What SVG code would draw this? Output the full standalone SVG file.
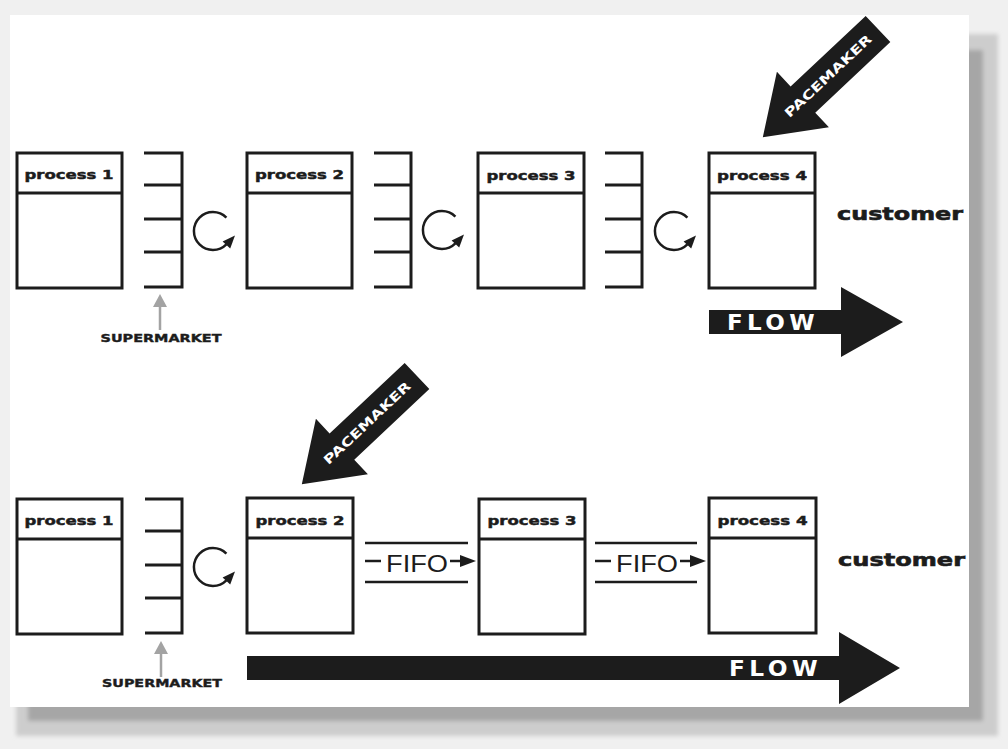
<svg xmlns="http://www.w3.org/2000/svg" width="1008" height="749" viewBox="0 0 1008 749">
  <style>
    .box { fill: #ffffff; stroke: #1c1c1c; stroke-width: 3; }
    .ln { fill: none; stroke: #1c1c1c; stroke-width: 3; }
    .ln2 { fill: none; stroke: #1c1c1c; stroke-width: 2.5; }
    .ph { font-family: "DejaVu Sans", "Liberation Sans", sans-serif; font-weight: bold; font-size: 13px; fill: #1c1c1c; stroke: #1c1c1c; stroke-width: 0.5; text-anchor: middle; }
    .cust { font-family: "DejaVu Sans", "Liberation Sans", sans-serif; font-weight: bold; font-size: 17px; fill: #1c1c1c; stroke: #1c1c1c; stroke-width: 0.6; }
    .sm { font-family: "DejaVu Sans", "Liberation Sans", sans-serif; font-weight: bold; font-size: 11px; fill: #1c1c1c; stroke: #1c1c1c; stroke-width: 0.4; text-anchor: middle; }
    .flow { font-family: "DejaVu Sans", "Liberation Sans", sans-serif; font-weight: bold; font-size: 21px; letter-spacing: 4px; fill: #ffffff; }
    .pace { font-family: "DejaVu Sans", "Liberation Sans", sans-serif; font-weight: bold; font-size: 12.5px; fill: #ffffff; text-anchor: middle; }
    .fifo { font-family: "Liberation Sans", "DejaVu Sans", sans-serif; font-size: 23px; fill: #1c1c1c; }
    .arrowfill { fill: #1c1c1c; }
    .gray { stroke: #a3a3a3; stroke-width: 2.5; fill: none; }
  </style>
  <defs>
    <g id="cycle">
      <path d="M 13.4 -13.4 A 19 19 0 1 0 13.4 13.4" fill="none" stroke="#1c1c1c" stroke-width="2.5"/>
      <polygon points="9.6,10.4 17.2,17.6 22,4.6" fill="#1c1c1c"/>
    </g>
    <g id="pacemakerArrow">
      <polygon points="0,-18 103,-18 103,-38 158,0 103,38 103,18 0,18" fill="#1c1c1c"/>
    </g>
    <g id="grayArrow">
      <line x1="0" y1="12" x2="0" y2="36" class="gray"/>
      <polygon points="0,0 -7,13 7,13" fill="#a3a3a3"/>
    </g>
    <filter id="soft" x="-5%" y="-5%" width="110%" height="110%">
      <feGaussianBlur stdDeviation="2"/>
    </filter>
  </defs>

  <!-- paper and shadow -->
  <rect x="0" y="0" width="1008" height="749" fill="#f0f0f0"/>
  <g filter="url(#soft)">
    <rect x="16" y="34" width="982" height="702" fill="#cdcdcd"/>
    <rect x="28" y="50" width="955" height="671" fill="#a6a6a6"/>
  </g>
  <rect x="10" y="15" width="959" height="692" fill="#ffffff"/>

  <!-- top row nodes -->
  <g id="top-process1">
    <rect class="box" x="17" y="153" width="105" height="135"/>
    <line class="ln" x1="17" y1="193" x2="122" y2="193"/>
    <text class="ph" x="69" y="179" textLength="89" lengthAdjust="spacingAndGlyphs">process 1</text>
  </g>
  <g id="top-process2">
    <rect class="box" x="247" y="153" width="105" height="135"/>
    <line class="ln" x1="247" y1="193" x2="352" y2="193"/>
    <text class="ph" x="299.5" y="179" textLength="89" lengthAdjust="spacingAndGlyphs">process 2</text>
  </g>
  <g id="top-process3">
    <rect class="box" x="478" y="153" width="106" height="135"/>
    <line class="ln" x1="478" y1="193" x2="584" y2="193"/>
    <text class="ph" x="531" y="180" textLength="89" lengthAdjust="spacingAndGlyphs">process 3</text>
  </g>
  <g id="top-process4">
    <rect class="box" x="709" y="153" width="106" height="135"/>
    <line class="ln" x1="709" y1="193" x2="815" y2="193"/>
    <text class="ph" x="762" y="180" textLength="90" lengthAdjust="spacingAndGlyphs">process 4</text>
  </g>
  <g id="top-customer">
    <text class="cust" x="837" y="220" textLength="126" lengthAdjust="spacingAndGlyphs">customer</text>
  </g>
  <g id="top-supermarket1">
    <path class="ln" d="M144 153 H182 V287 H144 M144 185 H182 M144 219 H182 M144 252 H182"/>
  </g>
  <g id="top-supermarket2">
    <path class="ln" d="M374 153 H411 V287 H374 M374 185 H411 M374 219 H411 M374 252 H411"/>
  </g>
  <g id="top-supermarket3">
    <path class="ln" d="M605 153 H642 V287 H605 M605 185 H642 M605 219 H642 M605 252 H642"/>
  </g>
  <g id="top-supermarket-label">
    <use href="#grayArrow" x="160" y="294"/>
    <text class="sm" x="161" y="342" textLength="121" lengthAdjust="spacingAndGlyphs">SUPERMARKET</text>
  </g>
  <g id="top-pacemaker">
    <use href="#pacemakerArrow" transform="translate(878,29) rotate(136.8)"/>
    <text class="pace" transform="translate(828,76) rotate(-43.2)" y="4.5" textLength="114" lengthAdjust="spacingAndGlyphs">PACEMAKER</text>
  </g>
  <g id="top-flow">
    <polygon class="arrowfill" points="709,310 841,310 841,287 903,322 841,357 841,334 709,334"/>
    <text class="flow" x="727" y="330" textLength="92" lengthAdjust="spacingAndGlyphs">FLOW</text>
  </g>

  <!-- bottom row nodes -->
  <g id="bot-process1">
    <rect class="box" x="17" y="499" width="105" height="135"/>
    <line class="ln" x1="17" y1="539" x2="122" y2="539"/>
    <text class="ph" x="69" y="525" textLength="89" lengthAdjust="spacingAndGlyphs">process 1</text>
  </g>
  <g id="bot-process2">
    <rect class="box" x="247" y="498" width="106" height="135"/>
    <line class="ln" x1="247" y1="538" x2="353" y2="538"/>
    <text class="ph" x="300" y="525" textLength="89" lengthAdjust="spacingAndGlyphs">process 2</text>
  </g>
  <g id="bot-process3">
    <rect class="box" x="479" y="499" width="106" height="135"/>
    <line class="ln" x1="479" y1="539" x2="585" y2="539"/>
    <text class="ph" x="532" y="525" textLength="89" lengthAdjust="spacingAndGlyphs">process 3</text>
  </g>
  <g id="bot-process4">
    <rect class="box" x="709" y="498" width="107" height="135"/>
    <line class="ln" x1="709" y1="538" x2="816" y2="538"/>
    <text class="ph" x="762.5" y="525" textLength="90" lengthAdjust="spacingAndGlyphs">process 4</text>
  </g>
  <g id="bot-customer">
    <text class="cust" x="838" y="566" textLength="127" lengthAdjust="spacingAndGlyphs">customer</text>
  </g>
  <g id="bot-supermarket">
    <path class="ln" d="M145 499 H182 V633 H145 M145 531 H182 M145 565 H182 M145 598 H182"/>
  </g>
  <g id="bot-supermarket-label">
    <use href="#grayArrow" x="161" y="641"/>
    <text class="sm" x="162" y="687" textLength="120" lengthAdjust="spacingAndGlyphs">SUPERMARKET</text>
  </g>
  <g id="bot-pacemaker">
    <use href="#pacemakerArrow" transform="translate(417,376) rotate(136.8)"/>
    <text class="pace" transform="translate(367,423) rotate(-43.2)" y="4.5" textLength="114" lengthAdjust="spacingAndGlyphs">PACEMAKER</text>
  </g>
  <g id="bot-fifo1">
    <line class="ln2" x1="365" y1="543" x2="468" y2="543"/>
    <line class="ln2" x1="365" y1="582" x2="468" y2="582"/>
    <line class="ln2" x1="365" y1="561" x2="381" y2="561"/>
    <text class="fifo" x="386" y="572" textLength="62" lengthAdjust="spacingAndGlyphs">FIFO</text>
    <line class="ln2" x1="450" y1="561" x2="464" y2="561"/>
    <polygon class="arrowfill" points="460,555 476,561 460,567"/>
  </g>
  <g id="bot-fifo2">
    <line class="ln2" x1="595" y1="543" x2="697" y2="543"/>
    <line class="ln2" x1="595" y1="582" x2="697" y2="582"/>
    <line class="ln2" x1="595" y1="561" x2="611" y2="561"/>
    <text class="fifo" x="616" y="572" textLength="62" lengthAdjust="spacingAndGlyphs">FIFO</text>
    <line class="ln2" x1="680" y1="561" x2="694" y2="561"/>
    <polygon class="arrowfill" points="690,555 706,561 690,567"/>
  </g>
  <g id="bot-flow">
    <polygon class="arrowfill" points="247,656 839,656 839,632 900,668 839,704 839,680 247,680"/>
    <text class="flow" x="729" y="676" textLength="93" lengthAdjust="spacingAndGlyphs">FLOW</text>
  </g>

  <!-- connectors (kanban loops) -->
  <g id="connectors">
    <use href="#cycle" x="213" y="231"/>
    <use href="#cycle" x="442" y="230"/>
    <use href="#cycle" x="674" y="231"/>
    <use href="#cycle" x="213" y="567"/>
  </g>
</svg>
